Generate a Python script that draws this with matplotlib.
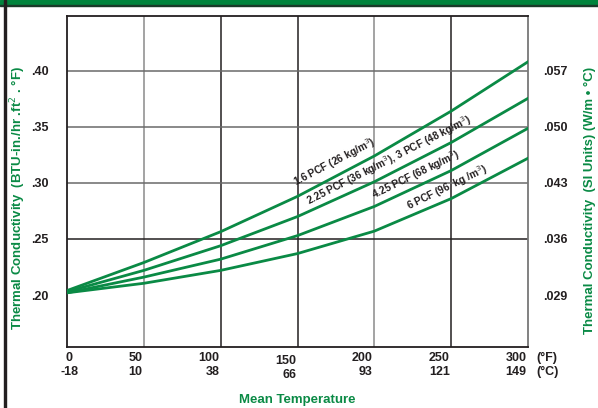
import matplotlib
matplotlib.use("Agg")
import matplotlib.pyplot as plt
from matplotlib.patches import Rectangle

# temperatura srednia (F) i odczytane przewodnosci (BTU-in/hr ft2 F)
temp_f = [0, 50, 100, 150, 200, 250, 300]
temp_c = ["-18", "10", "38", "66", "93", "121", "149"]
k_16 = [0.204, 0.229, 0.2565, 0.288, 0.324, 0.364, 0.408]
k_225_3 = [0.203, 0.222, 0.244, 0.270, 0.301, 0.336, 0.3754]
k_425 = [0.202, 0.216, 0.232, 0.253, 0.279, 0.311, 0.3487]
k_6 = [0.202, 0.2105, 0.222, 0.237, 0.257, 0.286, 0.322]

ytick_bt = [0.20, 0.25, 0.30, 0.35, 0.40]
ytick_lbl_bt = [".20", ".25", ".30", ".35", ".40"]
ytick_lbl_si = [".029", ".036", ".043", ".050", ".057"]

etykiety = ["1.6 PCF (26 kg/m$^3$)",
            "2.25 PCF (36 kg/m$^3$), 3 PCF (48 kg/m$^3$)",
            "4.25 PCF (68 kg/m$^3$)",
            "6 PCF (96  kg /m$^3$)"]

ZIELONY = "#0a8a45"
TEKST = "#231f20"
narrow = ["Liberation Sans Narrow", "Liberation Sans", "DejaVu Sans"]

fig = plt.figure(figsize=(5.98, 4.08), dpi=100)
fig.patches.append(Rectangle((0, 1 - 5 / 408), 1, 5 / 408, transform=fig.transFigure,
                             color="#00843d", zorder=0))
fig.patches.append(Rectangle((0, 1 - 6 / 408), 1, 1.2 / 408, transform=fig.transFigure,
                             color="#1a3a2a", zorder=0))
fig.patches.append(Rectangle((4 / 598, 0), 2.2 / 598, 1, transform=fig.transFigure,
                             color="#231f20", zorder=0))

ax = fig.add_axes([67 / 598, 1 - 347 / 408, 461 / 598, 331 / 408])
ax.set_xlim(0, 300)
ax.set_ylim(0.1537, 0.4488)

# siatka
kolory_v = ["#8a8a8a", "#231f20", "#231f20", "#8a8a8a", "#231f20"]
for x, c in zip(temp_f[1:-1], kolory_v):
    ax.axvline(x, color=c, lw=1.1, zorder=1)
kolory_h = ["#231f20", "#6a6a6a", "#6a6a6a", "#6a6a6a"]
for y, c in zip(ytick_bt[1:], kolory_h):
    ax.axhline(y, color=c, lw=1.1, zorder=1)

for seria in [k_16, k_225_3, k_425, k_6]:
    ax.plot(temp_f, seria, color=ZIELONY, lw=2.0, zorder=3, solid_joinstyle="round")

for s in ax.spines.values():
    s.set_color("#231f20")
    s.set_linewidth(1.3)
ax.spines["right"].set_color("#777777")

ax.set_xticks([])
ax.set_yticks(ytick_bt)
ax.set_yticklabels(ytick_lbl_bt, fontsize=9, fontweight="bold", color=TEKST, family=narrow)
ax.tick_params(axis="y", length=0, pad=13)

ax2 = ax.twinx()
ax2.set_ylim(ax.get_ylim())
ax2.set_yticks(ytick_bt)
ax2.set_yticklabels(ytick_lbl_si, fontsize=9, fontweight="bold", color=TEKST, family=narrow)
ax2.tick_params(axis="y", length=0, pad=11)
for s in ax2.spines.values():
    s.set_visible(False)

# etykiety osi x (dwie linie), wyrownane do prawej przy liniach siatki
for x, c in zip(temp_f, temp_c):
    dy = -2 if x == 150 else 0
    if x == 0:
        ha, dx = "center", 1.5
    else:
        ha, dx = "right", -1
    ax.annotate(str(x), (x, 0), xycoords=("data", "axes fraction"),
                xytext=(dx, -8 + dy), textcoords="offset points", ha=ha, va="center",
                fontsize=9, fontweight="bold", color=TEKST, family=narrow)
    ax.annotate(c, (x, 0), xycoords=("data", "axes fraction"),
                xytext=(dx, -18 + dy), textcoords="offset points", ha=ha, va="center",
                fontsize=9, fontweight="bold", color=TEKST, family=narrow)
ax.annotate("(°F)", (300, 0), xycoords=("data", "axes fraction"),
            xytext=(6, -8), textcoords="offset points", ha="left", va="center",
            fontsize=9, fontweight="bold", color=TEKST, family=narrow)
ax.annotate("(°C)", (300, 0), xycoords=("data", "axes fraction"),
            xytext=(6, -18), textcoords="offset points", ha="left", va="center",
            fontsize=9, fontweight="bold", color=TEKST, family=narrow)

# opisy krzywych (nad kazda krzywa)
pozycje = [(335, 162, 27.5), (389, 160, 27), (416, 175, 26), (447, 188, 26)]
for tekst, (px, py, kat) in zip(etykiety, pozycje):
    fig.text(px / 598, 1 - py / 408, tekst, rotation=kat, ha="center", va="center",
             rotation_mode="anchor", fontsize=7.3, fontweight="bold", color=TEKST, family=narrow)

fig.text(297 / 598, 1 - 400 / 408, "Mean Temperature", ha="center", va="center",
         fontsize=9.5, fontweight="bold", color=ZIELONY, family=narrow)
fig.text(18 / 598, 1 - 198 / 408, "Thermal Conductivity  (BTU-in./hr .ft$^2$ . °F)",
         rotation=90, ha="center", va="center", fontsize=9.5, fontweight="bold",
         color=ZIELONY, family=narrow)
fig.text(590 / 598, 1 - 200 / 408, "Thermal Conductivity  (SI Units) (W/m • °C)",
         rotation=90, ha="center", va="center", fontsize=9.5, fontweight="bold",
         color=ZIELONY, family=narrow)

plt.savefig("out.png", dpi=100)
